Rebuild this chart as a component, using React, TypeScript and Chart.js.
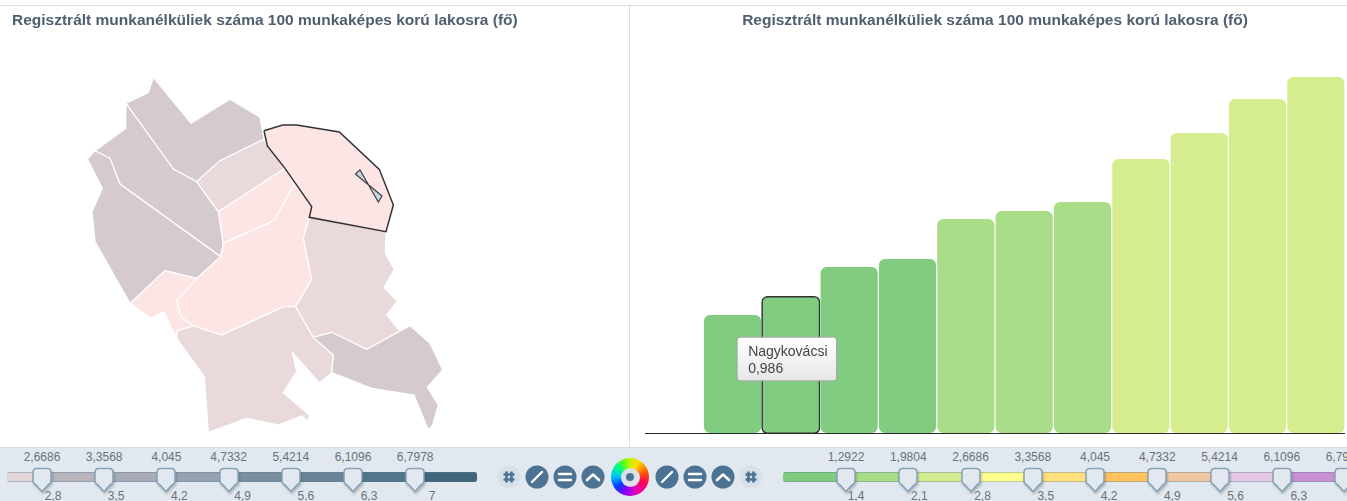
import React, { useEffect, useRef } from "react";
import { Chart, registerables, Tooltip } from "chart.js";

Chart.register(...registerables);

const chartTitle = "Regisztrált munkanélküliek száma 100 munkaképes korú lakosra (fő)";
const FONT = "'Liberation Sans', Arial, sans-serif";

// Bar chart data
const barCategories = ["", "Település 1", "Nagykovácsi", "Település 3", "Település 4", "Település 5", "Település 6", "Település 7", "Település 8", "Település 9", "Település 10", "Település 11"];
const barValues = [null, 0.855, 0.986, 1.203, 1.261, 1.551, 1.609, 1.674, 1.986, 2.174, 2.42, 2.58];
const barColors = ["#82cc82", "#82cc82", "#82cc82", "#82cc82", "#82cc82", "#a9dd87", "#a9dd87", "#a9dd87", "#d5ec8f", "#d5ec8f", "#d5ec8f", "#d5ec8f"];
const highlightedBar = 2;

// Map regions, in map units
const regionNorth = [[198,130],[265,98],[280,52],[393,190],[510,118],[600,172],[612,238],[480,302],[410,365],[340,327],[198,130]];
const regionNorthWest = [[198,130],[197,205],[105,272],[150,295],[180,372],[482,590],[490,550],[475,455],[410,365],[340,327],[198,130]];
const regionWest = [[105,272],[82,297],[127,385],[96,455],[105,545],[210,730],[315,632],[410,655],[482,590],[180,372],[150,295],[105,272]];
const regionInnerNorth = [[410,365],[480,302],[612,238],[622,258],[675,325],[475,455],[410,365]];
const regionInnerMid = [[475,455],[675,325],[703,372],[642,482],[490,550],[475,455]];
const regionCentral = [[490,550],[642,482],[703,372],[755,440],[748,472],[730,535],[755,658],[707,740],[672,740],[485,825],[400,798],[362,770],[350,722],[410,655],[482,590],[490,550]];
const regionSouthWest = [[210,730],[315,632],[410,655],[350,722],[362,770],[400,798],[352,812],[345,828],[312,755],[272,775],[210,730]];
const regionSouth = [[352,812],[400,798],[485,825],[672,740],[707,740],[760,832],[820,885],[815,938],[778,968],[697,878],[710,935],[670,998],[748,1065],[745,1085],[725,1068],[655,1095],[560,1075],[445,1117],[433,950],[350,835],[352,812]];
const regionEast = [[748,472],[978,515],[976,580],[1003,628],[972,682],[1012,723],[980,765],[1020,813],[920,868],[815,817],[760,832],[707,740],[755,658],[730,535],[748,472]];
const regionSouthEast = [[760,832],[815,817],[920,868],[1050,797],[1110,850],[1148,930],[1102,982],[1135,1035],[1118,1095],[1105,1110],[1062,1005],[935,985],[815,938],[820,885],[760,832]];
const regionHighlighted = [[612,212],[668,195],[710,195],[838,216],[958,328],[1000,435],[978,515],[748,472],[755,440],[675,325],[622,258],[612,212]];
const regionEnclave = [[886,342],[900,330],[955,426],[966,408],[886,342]];

const DARK = "#d5cbcf";
const MID = "#ead9db";
const LIGHT = "#fde5e5";

const mapLayers: [number[][], string][] = [
  [regionNorth, DARK], [regionNorthWest, DARK], [regionWest, DARK],
  [regionInnerNorth, MID], [regionInnerMid, LIGHT], [regionCentral, LIGHT],
  [regionSouthWest, LIGHT], [regionSouth, MID], [regionEast, MID], [regionSouthEast, DARK],
];

// Slider labels
const leftTopLabels = ["2,6686", "3,3568", "4,045", "4,7332", "5,4214", "6,1096", "6,7978"];
const leftBottomLabels = ["2,8", "3,5", "4,2", "4,9", "5,6", "6,3", "7"];
const leftBands = ["#e2d6d8", "#b9b3bc", "#a9abb6", "#98a2ae", "#7b8ea0", "#6a8395", "#527689", "#3f667b"];
const rightTopLabels = ["1,2922", "1,9804", "2,6686", "3,3568", "4,045", "4,7332", "5,4214", "6,1096", "6,7978"];
const rightBottomLabels = ["1,4", "2,1", "2,8", "3,5", "4,2", "4,9", "5,6", "6,3"];
const rightBands = ["#7fcb80", "#a9dc87", "#d4ec90", "#ffff90", "#ffe07a", "#ffc25c", "#f0c8a0", "#e6c8e4", "#c990d2", "#c990d2"];

(Tooltip.positioners as any).fixedBox = function (items: any[]) {
  if (!items.length) return false;
  return { x: items[0].element.x - 4, y: 353 };
};

const titleOptions = (align: "start" | "center") => ({
  display: true,
  text: chartTitle,
  align,
  color: "#4f5f70",
  font: { family: FONT, size: 15.5, weight: "bold" as const },
  padding: { top: 5.2, bottom: 0 },
});

function MapChart() {
  const ref = useRef<HTMLCanvasElement>(null);
  useEffect(() => {
    const datasets: any[] = mapLayers.map(([poly, color], i) => ({
      data: poly.map(([x, y]) => ({ x, y })),
      showLine: true, fill: "shape", backgroundColor: color,
      borderColor: "#ffffff", borderWidth: 1.2, pointRadius: 0, tension: 0, order: 100 - i,
    }));
    datasets.push({
      data: regionHighlighted.map(([x, y]) => ({ x, y })),
      showLine: true, fill: "shape", backgroundColor: LIGHT,
      borderColor: "#333333", borderWidth: 1.5, pointRadius: 0, tension: 0, order: 2,
    });
    datasets.push({
      data: regionEnclave.map(([x, y]) => ({ x, y })),
      showLine: true, fill: "shape", backgroundColor: "#c5d8e2",
      borderColor: "#444444", borderWidth: 1.2, pointRadius: 0, tension: 0, order: 1,
    });
    const chart = new Chart(ref.current!, {
      type: "scatter",
      data: { datasets },
      options: {
        animation: false, responsive: false, events: [],
        layout: { padding: { left: 12, right: 0, top: 0, bottom: 4 } },
        plugins: { legend: { display: false }, tooltip: { enabled: false }, title: titleOptions("start") },
        scales: {
          x: { type: "linear", display: false, min: -144, max: 1707 },
          y: { type: "linear", display: false, reverse: true, min: -90.6, max: 1149 },
        },
      },
    } as any);
    return () => chart.destroy();
  }, []);
  return <canvas ref={ref} width={629} height={441} style={{ position: "absolute", left: 0, top: 6, width: 629, height: 441 }} />;
}

function BarChart() {
  const ref = useRef<HTMLCanvasElement>(null);
  useEffect(() => {
    const chart = new Chart(ref.current!, {
      type: "bar",
      data: {
        labels: barCategories,
        datasets: [{
          data: barValues,
          backgroundColor: barColors,
          borderColor: barCategories.map((_, i) => (i === highlightedBar ? "#333333" : "rgba(0,0,0,0)")),
          borderWidth: barCategories.map((_, i) => (i === highlightedBar ? 1.6 : 0)),
          inflateAmount: barCategories.map((_, i) => (i === highlightedBar ? 1 : 0)),
          borderRadius: 6,
          borderSkipped: false,
          barPercentage: 0.98,
          categoryPercentage: 1,
        }],
      },
      options: {
        animation: false, responsive: false, events: [],
        layout: { padding: { left: 0, right: 0, top: 0, bottom: 14 } },
        plugins: {
          legend: { display: false },
          title: titleOptions("center"),
          tooltip: {
            enabled: true,
            animation: false,
            position: "fixedBox",
            xAlign: "center",
            yAlign: "center",
            caretSize: 0,
            caretPadding: 0,
            displayColors: false,
            cornerRadius: 3,
            borderColor: "#a8a8a8",
            borderWidth: 1,
            padding: { left: 11, right: 9, top: 6.5, bottom: 3.5 },
            titleColor: "#444444",
            bodyColor: "#444444",
            titleFont: { family: FONT, size: 14, weight: "normal" },
            bodyFont: { family: FONT, size: 14, weight: "normal" },
            titleMarginBottom: 0,
            bodySpacing: 0,
            backgroundColor: (ctx: any) => {
              const g = ctx.chart.ctx.createLinearGradient(0, 332, 0, 376);
              g.addColorStop(0, "#ffffff");
              g.addColorStop(1, "#e6e6e6");
              return g;
            },
            callbacks: {
              title: (items: any[]) => items[0].label,
              label: (item: any) => String(item.parsed.y).replace(".", ","),
            },
          },
        },
        scales: {
          x: {
            display: true,
            grid: { display: false, drawTicks: false },
            border: { display: true, color: "#2b2b2b", width: 1 },
            ticks: { display: false },
          },
          y: { display: false, min: 0, max: 2.922 },
        },
      },
    } as any);
    chart.tooltip!.setActiveElements([{ datasetIndex: 0, index: highlightedBar }], { x: 0, y: 0 });
    chart.render();
    return () => chart.destroy();
  }, []);
  return <canvas ref={ref} width={700} height={441} style={{ position: "absolute", left: 645, top: 6, width: 700, height: 441 }} />;
}

const labelStyle: React.CSSProperties = {
  position: "absolute", width: 60, textAlign: "center", fontFamily: FONT, fontSize: 12,
  lineHeight: "14px", color: "#68727c", whiteSpace: "nowrap",
};

function Handle({ x }: { x: number }) {
  return (
    <svg width={24} height={28} style={{ position: "absolute", left: x - 12, top: 466, overflow: "visible", filter: "drop-shadow(1px 2px 1px rgba(60,70,80,0.3))" }}>
      <path d="M7 2.5 H17 Q21 2.5 21 6.5 V14.5 Q21 17.5 18.5 18.5 L12 25.5 L5.5 18.5 Q3 17.5 3 14.5 V6.5 Q3 2.5 7 2.5 Z" fill="#e2e8ef" stroke="#86a2b8" strokeWidth={1.5} />
    </svg>
  );
}

function Slider({ left, right, first, step, bands, top, bottom, offset }: { left: number; right: number; first: number; step: number; bands: string[]; top: string[]; bottom: string[]; offset: number }) {
  const stops = top.map((_, i) => first + i * step);
  const edges = [left, ...stops, right];
  return (
    <>
      <div style={{ position: "absolute", left, top: 472, width: right - left, height: 10, borderRadius: 3, overflow: "hidden", boxShadow: "inset 0 0 0 1px rgba(90,125,155,0.55)" }}>
        {edges.slice(0, -1).map((e, i) => (
          <div key={i} style={{ position: "absolute", left: e - left, top: 0, height: 10, width: edges[i + 1] - e, background: bands[i], boxShadow: "inset 0 1px 0 rgba(90,125,155,0.4), inset 0 -1px 0 rgba(90,125,155,0.4)" }} />
        ))}
      </div>
      {stops.map((s, i) => <Handle key={i} x={s} />)}
      {top.map((t, i) => <div key={i} style={{ ...labelStyle, left: stops[i] - 30, top: 450 }}>{t}</div>)}
      {bottom.map((t, i) => <div key={i} style={{ ...labelStyle, left: stops[i] - 30 + offset + i, top: 489 }}>{t}</div>)}
    </>
  );
}

const BLUE = "#4d7394";

function HashButton({ cx }: { cx: number }) {
  return (
    <g>
      <circle cx={cx} cy={477} r={11.5} fill="#d8e0e8" />
      <path d={`M${cx - 2.5} 471.5 V482.5 M${cx + 2.5} 471.5 V482.5 M${cx - 5.5} 474.5 H${cx + 5.5} M${cx - 5.5} 479.5 H${cx + 5.5}`} stroke={BLUE} strokeWidth={2.6} fill="none" />
    </g>
  );
}
function SlashButton({ cx }: { cx: number }) {
  return (
    <g>
      <circle cx={cx} cy={477} r={11.5} fill={BLUE} />
      <path d={`M${cx - 5} 482 L${cx + 5} 472`} stroke="#fff" strokeWidth={2.4} strokeLinecap="round" />
    </g>
  );
}
function EqualButton({ cx }: { cx: number }) {
  return (
    <g>
      <circle cx={cx} cy={477} r={11.5} fill={BLUE} />
      <path d={`M${cx - 6} 474 H${cx + 6} M${cx - 6} 480 H${cx + 6}`} stroke="#fff" strokeWidth={2.6} strokeLinecap="round" />
    </g>
  );
}
function CaretButton({ cx }: { cx: number }) {
  return (
    <g>
      <circle cx={cx} cy={477} r={11.5} fill={BLUE} />
      <path d={`M${cx - 6} 480 L${cx} 474.5 L${cx + 6} 480`} stroke="#fff" strokeWidth={2.6} strokeLinecap="round" strokeLinejoin="round" fill="none" />
    </g>
  );
}

export default function App() {
  return (
    <div style={{ position: "absolute", left: 0, top: 0, width: 1347, height: 501, overflow: "hidden", background: "#fff" }}>
      <div style={{ position: "absolute", left: 0, top: 5, width: 1347, height: 1, background: "#d7e1ea" }} />
      <div style={{ position: "absolute", left: 629, top: 6, width: 1, height: 441, background: "#d7e1ea" }} />
      <MapChart />
      <BarChart />
      <div style={{ position: "absolute", left: 0, top: 447, width: 1347, height: 54, background: "#e2e8ef", borderTop: "1px solid #d4dde6", boxSizing: "border-box" }} />
      <Slider left={7} right={477} first={42} step={62.2} bands={leftBands} top={leftTopLabels} bottom={leftBottomLabels} offset={11} />
      <Slider left={783} right={1380} first={846} step={62.25} bands={rightBands} top={rightTopLabels} bottom={rightBottomLabels} offset={10} />
      <svg width={1347} height={501} style={{ position: "absolute", left: 0, top: 0, pointerEvents: "none" }}>
        <HashButton cx={509} />
        <SlashButton cx={537} />
        <EqualButton cx={565} />
        <CaretButton cx={593} />
        <SlashButton cx={667} />
        <EqualButton cx={695} />
        <CaretButton cx={723} />
        <HashButton cx={751} />
      </svg>
      <div style={{ position: "absolute", left: 611, top: 458, width: 38, height: 38, borderRadius: "50%", background: "conic-gradient(#c8f000, #ffdd00 30deg, #ff6000 70deg, #ff0050 110deg, #e000c0 160deg, #8000ff 200deg, #0040ff 235deg, #00c0ff 270deg, #00ff80 310deg, #80ff00 345deg, #c8f000)" }} />
      <div style={{ position: "absolute", left: 620.5, top: 467.5, width: 19, height: 19, borderRadius: "50%", background: "#dde1e6" }} />
      <div style={{ position: "absolute", left: 626, top: 473, width: 8, height: 8, borderRadius: "50%", background: BLUE }} />
    </div>
  );
}
